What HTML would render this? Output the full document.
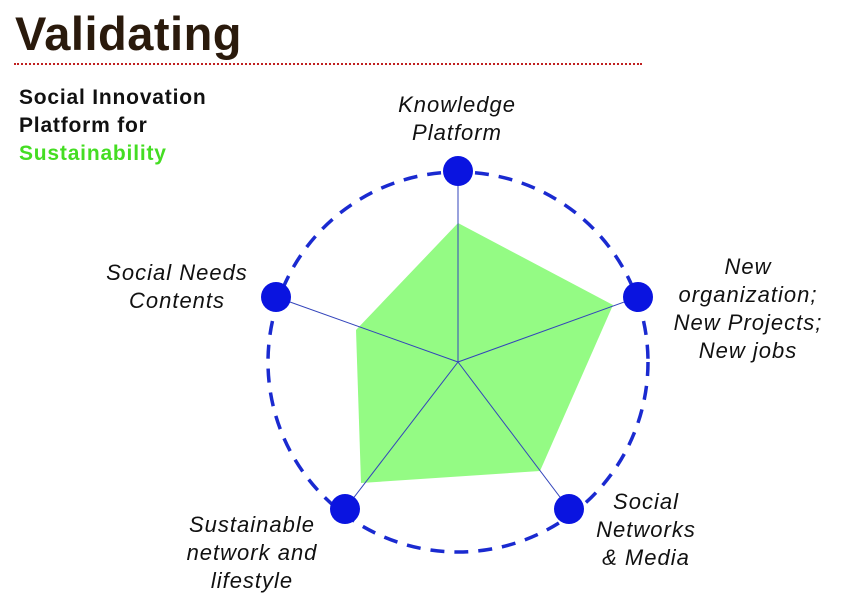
<!DOCTYPE html>
<html><head><style>
body{margin:0;width:852px;height:599px;background:#fff;overflow:hidden;position:relative;font-family:"Liberation Sans",sans-serif}
.t{position:absolute;font-style:italic;font-size:22px;letter-spacing:1px;color:#111;text-align:center;line-height:28px}
</style></head><body>
<div style="position:absolute;left:15px;top:6px;font-size:47px;font-weight:bold;color:#2a1a0c;letter-spacing:0.5px">Validating</div>
<div style="position:absolute;left:14px;top:63px;width:628px;border-top:2px dotted #c02020"></div>
<div style="position:absolute;left:19px;top:84px;font-size:21px;letter-spacing:0.8px;font-weight:bold;line-height:28px;color:#111">Social Innovation<br>Platform for<br><span style="color:#44dd22">Sustainability</span></div>
<svg width="852" height="599" style="position:absolute;left:0;top:0">
<circle cx="458" cy="362" r="190" fill="none" stroke="#1a2ad0" stroke-width="3.5" stroke-dasharray="14 10"/>
<polygon points="458,223 613,305 540,471 361,483 356,330" fill="#94fb84"/>
<g stroke="#3344bb" stroke-width="1">
<line x1="458" y1="362" x2="458" y2="171"/>
<line x1="458" y1="362" x2="638" y2="297"/>
<line x1="458" y1="362" x2="569" y2="509"/>
<line x1="458" y1="362" x2="345" y2="509"/>
<line x1="458" y1="362" x2="276" y2="297"/>
</g>
<g fill="#0a14e0">
<circle cx="458" cy="171" r="15"/><circle cx="638" cy="297" r="15"/>
<circle cx="569" cy="509" r="15"/><circle cx="345" cy="509" r="15"/>
<circle cx="276" cy="297" r="15"/>
</g>
</svg>
<div class="t" style="left:357px;top:91px;width:200px">Knowledge<br>Platform</div>
<div class="t" style="left:77px;top:259px;width:200px">Social Needs<br>Contents</div>
<div class="t" style="left:648px;top:253px;width:200px">New<br>organization;<br>New Projects;<br>New jobs</div>
<div class="t" style="left:556px;top:488px;width:180px">Social<br>Networks<br>&amp; Media</div>
<div class="t" style="left:152px;top:511px;width:200px">Sustainable<br>network and<br>lifestyle</div>
</body></html>
